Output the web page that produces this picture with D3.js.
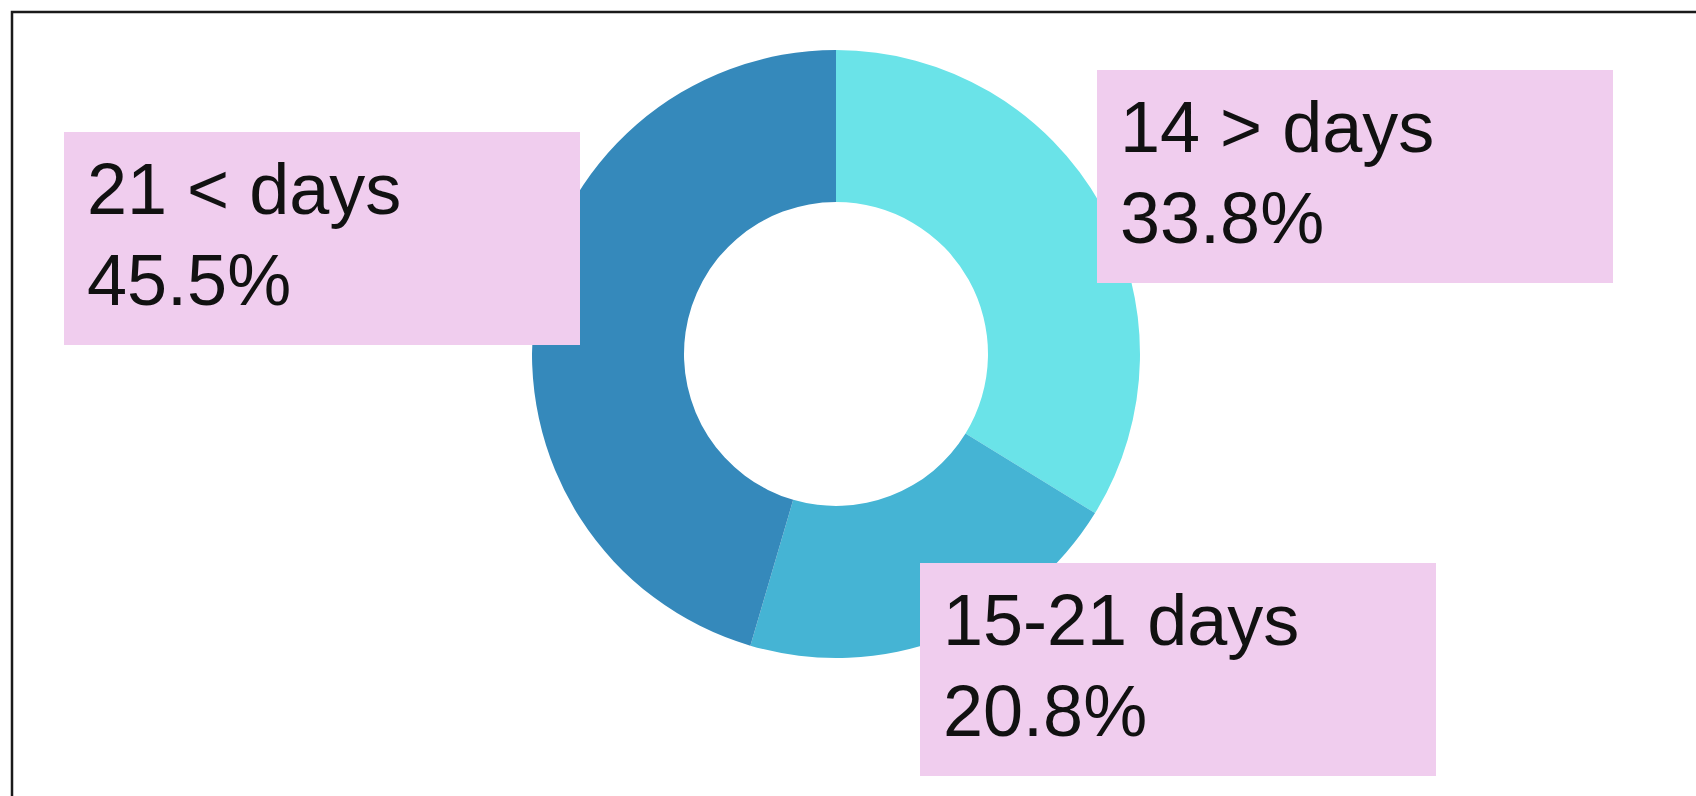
<!DOCTYPE html>
<html>
<head>
<meta charset="utf-8">
<script src="https://cdn.jsdelivr.net/npm/d3@7"></script>
<style>
  body { margin: 0; background: #fff; }
  svg { display: block; }
  .label-text { font-family: "Liberation Sans", Arial, sans-serif; fill: #111; }
</style>
</head>
<body>
<div id="chart"></div>
<script>
const categories = ["14 > days", "15-21 days", "21 < days"];
const shares = [33.8, 20.8, 45.5];
const sliceColors = ["#6ae3e8", "#45b4d4", "#3589bb"];

// label box placement (top-left corner) per category
const boxPos = [
  { x: 1097, y: 70 },
  { x: 920, y: 563 },
  { x: 64, y: 132 },
];

const width = 1696;
const height = 796;
const center = { x: 836, y: 354 };
const outerR = 304;
const innerR = 152;
const boxW = 516;
const boxH = 213;

const data = categories.map((c, i) => ({ name: c, value: shares[i], color: sliceColors[i], box: boxPos[i] }));

const svg = d3.select("#chart").append("svg")
  .attr("width", width)
  .attr("height", height);

// frame: top and left rule only
svg.append("path")
  .attr("d", `M12,${height} V12 H${width}`)
  .attr("fill", "none")
  .attr("stroke", "#1a1a1a")
  .attr("stroke-width", 2.5);

const pie = d3.pie().value((d) => d.value).sort(null);
const arc = d3.arc().innerRadius(innerR).outerRadius(outerR);

svg.append("g")
  .attr("transform", `translate(${center.x},${center.y})`)
  .selectAll("path")
  .data(pie(data))
  .join("path")
  .attr("d", arc)
  .attr("fill", (d) => d.data.color);

const labels = svg.selectAll(".label")
  .data(data)
  .join("g")
  .attr("class", "label")
  .attr("transform", (d) => `translate(${d.box.x},${d.box.y})`);

labels.append("rect")
  .attr("width", boxW)
  .attr("height", boxH)
  .attr("fill", "#f0cdee");

labels.append("text")
  .attr("class", "label-text")
  .attr("x", 23)
  .attr("y", 82)
  .attr("font-size", 72)
  .text((d) => d.name);

labels.append("text")
  .attr("class", "label-text")
  .attr("x", 23)
  .attr("y", 173)
  .attr("font-size", 72)
  .text((d) => d3.format(".1f")(d.value) + "%");
</script>
</body>
</html>
